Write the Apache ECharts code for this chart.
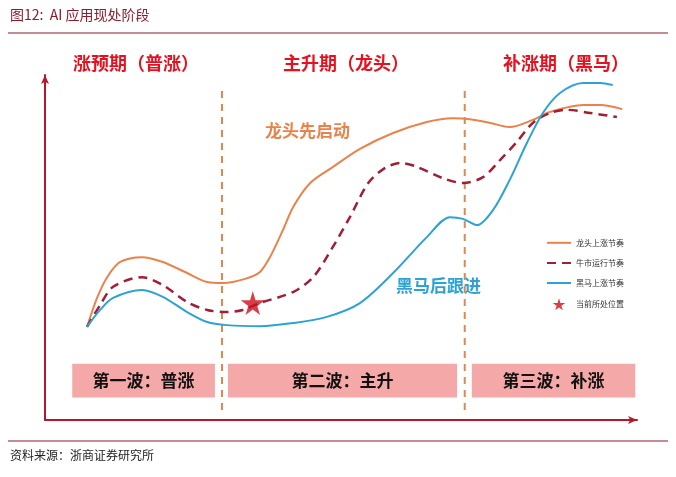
<!DOCTYPE html>
<html><head><meta charset="utf-8">
<script src="https://cdn.jsdelivr.net/npm/echarts@6/dist/echarts.min.js"></script>
<style>html,body{margin:0;padding:0;background:#fff}#c{width:676px;height:477px}</style>
</head><body><div id="c"></div>
<script>
// Data (abstract units: x = time 0-100, y = level 0-100)
const leaderX = [7.1,8.8,10.5,12.7,16.4,19.9,24.0,27.4,30.1,33.8,36.3,38.0,40.2,41.9,44.8,48.6,53.2,58.8,64.5,68.9,71.8,75.2,78.5,82.4,85.3,90.9,93.8,97.5];
const leaderY = [27.0,35.4,41.4,45.8,47.2,45.8,42.6,40.0,39.7,40.9,42.9,47.2,55.1,61.7,68.7,73.3,78.6,83.2,86.4,87.5,87.2,86.1,84.9,87.0,89.3,91.3,91.3,90.1];
const bullX = [7.1,9.3,11.5,16.4,19.9,24.0,27.4,30.7,33.4,36.3,41.9,45.3,48.6,51.5,54.6,57.4,60.0,62.5,67.2,70.6,74.0,76.9,79.7,82.4,85.3,88.2,92.1,96.6];
const bullY = [27.0,33.3,38.6,41.4,39.1,34.2,31.9,31.3,31.9,33.9,37.1,41.4,50.1,58.8,68.7,73.0,74.5,73.6,70.1,68.7,70.4,75.4,80.6,86.1,89.0,89.9,89.0,87.8];
const horseX = [7.1,9.3,11.5,16.4,19.9,24.0,27.4,30.7,36.3,41.9,47.6,53.2,58.8,64.5,68.4,70.6,73.0,75.7,78.5,81.4,84.1,87.0,90.9,93.8,95.9];
const horseY = [27.0,31.9,35.4,37.7,35.7,31.3,28.4,27.5,27.2,28.1,29.9,33.9,42.6,53.0,58.8,58.3,56.5,60.9,69.6,80.3,89.0,94.8,97.7,97.7,97.1];
const current = [35.1, 33.9];
const seriesNames = ['龙头上涨节奏','牛市运行节奏','黑马上涨节奏','当前所处位置'];
const phaseNames = ['涨预期（普涨）','主升期（龙头）','补涨期（黑马）'];
const phaseCenters = [136, 346, 566];
const waveNames = ['第一波：普涨','第二波：主升','第三波：补涨'];
const waveX = [[4.6,28.7],[30.9,69.6],[72.1,99.7]];
const waveY = [6.5,16.3];
const boundaries = [29.9, 70.9];
const boundaryY = [2.9, 95.7];

const zip = (a,b)=>a.map((v,i)=>[v,b[i]]);
const star = 'path://M50,0 L61,35 L98,35 L68,57 L79,91 L50,70 L21,91 L32,57 L2,35 L39,35 Z';
const ORANGE='#e8834c', DRED='#a01f35', BLUE='#2ea2d4', RED='#cc0f1c', AXIS='#b5172b';
const cjk = '"Noto Sans CJK SC","Noto Sans",sans-serif';
const noSym = {color:'rgba(0,0,0,0)', borderWidth:0};
const curve = {type:'line', smooth:0.3, symbol:'none', z:3};

const chart = echarts.init(document.getElementById('c'), null, {renderer:'canvas'});
const series = [
  Object.assign({name:seriesNames[0], data:zip(leaderX,leaderY), lineStyle:{color:ORANGE,width:2}, itemStyle:{color:ORANGE}}, curve),
  Object.assign({name:seriesNames[1], data:zip(bullX,bullY), lineStyle:{color:DRED,width:2.5,type:[9,6]}, itemStyle:{color:DRED}}, curve),
  Object.assign({name:seriesNames[2], data:zip(horseX,horseY), lineStyle:{color:BLUE,width:2}, itemStyle:{color:BLUE}}, curve),
  {name:seriesNames[3], type:'scatter', data:[current], symbol:star, symbolSize:24, itemStyle:{color:RED}, z:5},
  {type:'line', silent:true, data:[], markArea:{silent:true, itemStyle:{color:'#f5a8a8'},
     label:{show:true, position:'inside', color:'#111', fontSize:17, fontWeight:'bold', fontFamily:cjk},
     data: waveNames.map((n,i)=>[{name:n, coord:[waveX[i][0],waveY[0]]},{coord:[waveX[i][1],waveY[1]]}])}},
];
boundaries.forEach(b=>series.push({type:'line', silent:true, data:[[b,boundaryY[0]],[b,boundaryY[1]]], symbol:'none',
  lineStyle:{color:'#e0874f', width:2, type:[7,6]}, z:2}));

const graphic = [
  {type:'text', left:10, top:8, style:{text:'图12:  AI 应用现处阶段', fill:'#8e1b2c', font:'14px "Noto Sans CJK SC",serif'}},
  {type:'line', shape:{x1:8,y1:33,x2:668,y2:33}, style:{stroke:'#8e1b2c', lineWidth:1.2}},
  {type:'line', shape:{x1:8,y1:441,x2:668,y2:441}, style:{stroke:'#8e1b2c', lineWidth:1.2}},
  {type:'text', left:10, top:449, style:{text:'资料来源：浙商证券研究所', fill:'#222', font:'12px "Noto Sans CJK SC",serif'}},
  {type:'text', x:265, y:122, style:{text:'龙头先启动', fill:ORANGE, font:'bold 17px '+cjk}},
  {type:'text', x:396, y:277, style:{text:'黑马后跟进', fill:BLUE, font:'bold 17px '+cjk}},
];
phaseNames.forEach((p,i)=>graphic.push({type:'text', x:phaseCenters[i], y:54, style:{text:p, fill:'#e8101e', font:'bold 18px '+cjk, textAlign:'center'}}));

chart.setOption({
  animation:false,
  grid:{left:45, right:39, top:75, bottom:57},
  xAxis:{type:'value', min:0, max:100, axisLine:{show:true, symbol:['none','arrow'], symbolSize:[6,9], lineStyle:{color:AXIS,width:2}}, axisTick:{show:false}, axisLabel:{show:false}, splitLine:{show:false}},
  yAxis:{type:'value', min:0, max:100, axisLine:{show:true, symbol:['none','arrow'], symbolSize:[6,9], lineStyle:{color:AXIS,width:2}}, axisTick:{show:false}, axisLabel:{show:false}, splitLine:{show:false}},
  legend:{orient:'vertical', left:541, top:233, itemWidth:24, itemHeight:12, itemGap:10.5,
    textStyle:{fontSize:8, color:'#333', fontFamily:cjk},
    data:[{name:seriesNames[0], itemStyle:noSym},{name:seriesNames[1], itemStyle:noSym},{name:seriesNames[2], itemStyle:noSym},{name:seriesNames[3], icon:star, itemStyle:{color:RED}}]},
  graphic: graphic,
  series: series
});
</script></body></html>
